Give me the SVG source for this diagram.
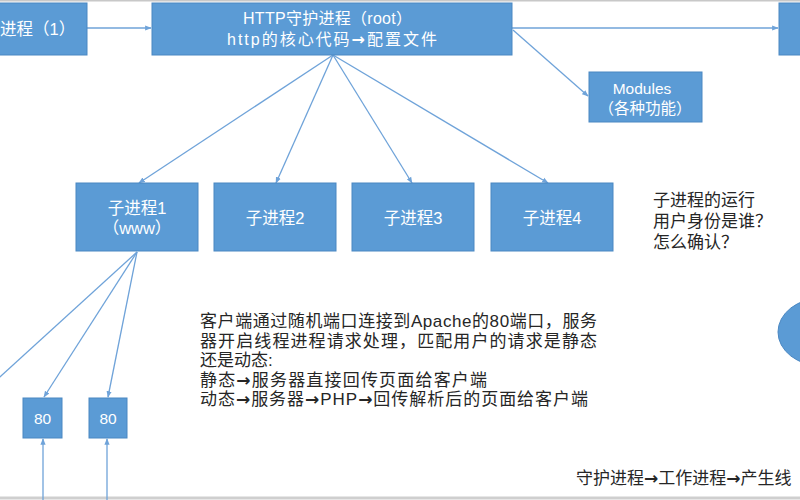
<svg xmlns="http://www.w3.org/2000/svg" width="800" height="500" viewBox="0 0 800 500">
<style>
.box{fill:#5b9bd5;stroke:#4a87c2;stroke-width:1}
.wt{fill:#fff;font-family:"Liberation Sans","Noto Sans CJK SC",sans-serif;text-anchor:middle}
.bt{fill:#262626;font-family:"Liberation Sans","Noto Sans CJK SC",sans-serif;font-size:17px}
.ar{font-family:"DejaVu Sans",sans-serif;font-weight:bold}
.ln{stroke:#6fa3d9;stroke-width:1.3;fill:none;marker-end:url(#ah)}
</style>
<defs>
<marker id="ah" viewBox="0 0 10 10" refX="9" refY="5" markerWidth="5" markerHeight="5" orient="auto">
<path d="M0,1 L10,5 L0,9 z" fill="#6fa3d9"/>
</marker>
</defs>
<rect x="0" y="0" width="800" height="500" fill="#fff"/>
<line x1="0" y1="0.8" x2="800" y2="0.8" stroke="#c8c8c8" stroke-width="1.5"/>
<line x1="0" y1="498" x2="800" y2="498" stroke="#cfcfcf" stroke-width="3"/>

<g id="connectors">
<line class="ln" x1="87" y1="28" x2="151" y2="28"/>
<line class="ln" x1="512" y1="28" x2="778" y2="28"/>
<line class="ln" x1="513" y1="30" x2="588" y2="96"/>
<line class="ln" x1="333" y1="55" x2="139" y2="183"/>
<line class="ln" x1="333" y1="55" x2="276" y2="183"/>
<line class="ln" x1="333" y1="55" x2="412" y2="183"/>
<line class="ln" x1="333" y1="55" x2="548" y2="183"/>
<line x1="137" y1="252" x2="-20" y2="395" stroke="#6fa3d9" stroke-width="1.3"/>
<line class="ln" x1="137" y1="252" x2="44" y2="397"/>
<line class="ln" x1="137" y1="252" x2="108" y2="397"/>
<line class="ln" x1="43" y1="500" x2="43" y2="439"/>
<line class="ln" x1="107" y1="500" x2="107" y2="439"/>
</g>

<g id="node-daemon1">
<rect class="box" x="-80" y="3" width="167" height="52"/>
<text class="wt" x="0" y="35" font-size="16.5" style="text-anchor:start">进程（1）</text>
</g>
<g id="node-http">
<rect class="box" x="152" y="3" width="360" height="52"/>
<text class="wt" x="327.5" y="24" font-size="16" textLength="169" lengthAdjust="spacing">HTTP守护进程（root）</text>
<text class="wt" x="332" y="45" font-size="16" textLength="210" lengthAdjust="spacing">http的核心代码<tspan class="ar">→</tspan>配置文件</text>
</g>
<g id="node-right">
<rect class="box" x="779" y="3" width="40" height="52"/>
</g>
<g id="node-modules">
<rect class="box" x="589" y="72" width="113" height="50"/>
<text class="wt" x="642" y="94" font-size="15.5">Modules</text>
<text class="wt" x="645" y="114" font-size="15.5">（各种功能）</text>
</g>
<g id="node-child1">
<rect class="box" x="76" y="183" width="122" height="68"/>
<text class="wt" x="137" y="214" font-size="16.5">子进程1</text>
<text class="wt" x="137" y="234" font-size="16.5">（www）</text>
</g>
<g id="node-child2">
<rect class="box" x="214" y="183" width="122" height="68"/>
<text class="wt" x="275" y="224" font-size="16.5">子进程2</text>
</g>
<g id="node-child3">
<rect class="box" x="352" y="183" width="122" height="68"/>
<text class="wt" x="413" y="224" font-size="16.5">子进程3</text>
</g>
<g id="node-child4">
<rect class="box" x="491" y="183" width="122" height="68"/>
<text class="wt" x="552" y="224" font-size="16.5">子进程4</text>
</g>
<g id="node-port1">
<rect class="box" x="23" y="398" width="39" height="40"/>
<text class="wt" x="42.5" y="424" font-size="15.5">80</text>
</g>
<g id="node-port2">
<rect class="box" x="89" y="398" width="38" height="40"/>
<text class="wt" x="108" y="424" font-size="15.5">80</text>
</g>
<g id="node-ellipse">
<ellipse cx="822" cy="332" rx="44" ry="34" fill="#5b9bd5" stroke="#4a87c2"/>
</g>

<g id="notes">
<text class="bt" x="653" y="206" font-size="17.5">子进程的运行</text>
<text class="bt" x="653" y="227" font-size="17.5">用户身份是谁？</text>
<text class="bt" x="653" y="248" font-size="17.5">怎么确认？</text>
<text class="bt" x="200" y="327" textLength="397" lengthAdjust="spacing">客户端通过随机端口连接到Apache的80端口，服务</text>
<text class="bt" x="200" y="347" textLength="397" lengthAdjust="spacing">器开启线程进程请求处理，匹配用户的请求是静态</text>
<text class="bt" x="200" y="366">还是动态:</text>
<text class="bt" x="200" y="386" textLength="287" lengthAdjust="spacing">静态<tspan class="ar">→</tspan>服务器直接回传页面给客户端</text>
<text class="bt" x="200" y="405" textLength="388" lengthAdjust="spacing">动态<tspan class="ar">→</tspan>服务器<tspan class="ar">→</tspan>PHP<tspan class="ar">→</tspan>回传解析后的页面给客户端</text>
<text class="bt" x="576" y="484" font-size="17">守护进程<tspan class="ar">→</tspan>工作进程<tspan class="ar">→</tspan>产生线</text>
</g>
</svg>
